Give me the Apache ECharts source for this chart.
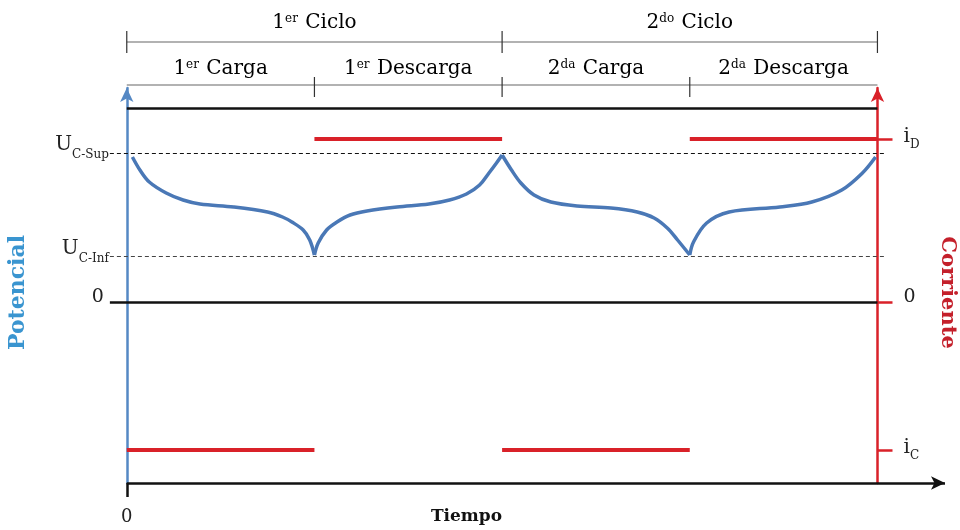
<!DOCTYPE html>
<html>
	<head>
		<meta charset="utf-8">
		<title></title>
		<script src="https://cdn.jsdelivr.net/npm/echarts@6/dist/echarts.min.js"></script>
		<style>
			html, body{margin:0;padding:0;background:#fff;}
			#main{width:960px;height:530px;}
		</style>
	</head>
	<body>
		<div id="main"></div>
		<script>
			// fases del ensayo (eje de tiempo, unidades arbitrarias)
			var limitesFase = [0, 1, 2, 3, 4];
			var fases = [['1', 'er', ' Carga'], ['1', 'er', ' Descarga'], ['2', 'da', ' Carga'], ['2', 'da', ' Descarga']];
			var ciclos = [['1', 'er', ' Ciclo'], ['2', 'do', ' Ciclo']];

			// potencial
			var carga1 = [[0.03, 1.45], [0.07, 1.32], [0.12, 1.20], [0.21, 1.09], [0.30, 1.02], [0.39, 0.98], [0.57, 0.95], [0.75, 0.90], [0.83, 0.85], [0.88, 0.80], [0.94, 0.72], [0.975, 0.62], [1.0, 0.47]];
			var descarga1 = [[1.0, 0.47], [1.02, 0.59], [1.065, 0.72], [1.12, 0.80], [1.19, 0.87], [1.28, 0.91], [1.44, 0.95], [1.61, 0.98], [1.72, 1.02], [1.81, 1.08], [1.88, 1.17], [1.93, 1.29], [1.97, 1.39], [2.0, 1.47]];
			var carga2 = [[2.0, 1.47], [2.05, 1.32], [2.10, 1.19], [2.17, 1.07], [2.26, 1.00], [2.40, 0.96], [2.58, 0.94], [2.72, 0.90], [2.81, 0.84], [2.88, 0.74], [2.935, 0.62], [3.0, 0.47]];
			var descarga2 = [[3.0, 0.47], [3.02, 0.60], [3.09, 0.79], [3.21, 0.90], [3.48, 0.95], [3.65, 1.00], [3.81, 1.12], [3.92, 1.29], [3.99, 1.45]];

			var uSup = 1.49, uInf = 0.46, nivelSup = 1.94;
			// corriente
			var iD = 1.63, iC = -1.48;
			var tramosCarga = [[0, 1], [2, 3]];
			var tramosDescarga = [[1, 2], [3, 4]];
			var ejeMin = -1.81, ejeMax = 2.14;

			var fuente = 'DejaVu Serif';
			var azul = '#5588c4', rojo = '#d92129';

			function tramos(lista, nivel){
				var d = [];
				for (var i = 0; i < lista.length; i++) {
					if (i > 0) d.push([lista[i][0] - 0.5, '-']);
					d.push([lista[i][0], nivel]);
					d.push([lista[i][1], nivel]);
				}
				return d;
			}

			function curva(nombre, datos){
				return {
					name: nombre,
					type: 'line',
					data: datos,
					smooth: 0.35,
					showSymbol: false,
					silent: true,
					lineStyle: {color: '#4a78b6', width: 3.5},
					z: 5
				};
			}

			var richSub = {
				n: {fontFamily: fuente, fontSize: 20, color: '#222', verticalAlign: 'bottom', padding: [0, 0, 6, 0]},
				s: {fontFamily: fuente, fontSize: 12, color: '#222', verticalAlign: 'bottom'},
				c: {fontFamily: fuente, fontSize: 19, color: '#222', padding: [0, 0, 10, 0]}
			};

			var myChart = echarts.init(document.getElementById('main'));

			var serieCarga1 = curva('Potencial', carga1);
			serieCarga1.markLine = {
				silent: true,
				animation: false,
				symbol: ['none', 'none'],
				label: {show: false},
				data: [
					[{coord: [0, nivelSup]}, {coord: [4, nivelSup]}],
					[{coord: [-0.09, 0], label: {show: true, position: 'start', distance: 6, formatter: '{c|0}', rich: richSub}},
						{coord: [4, 0]}],
					[{coord: [-0.09, uSup], lineStyle: {type: [4, 3], width: 1}, label: {show: true, position: 'start', distance: 1, formatter: '{n|U}{s|C-Sup}', rich: richSub, padding: [0, 0, 10, 0]}},
						{coord: [4.05, uSup]}],
					[{coord: [-0.09, uInf], lineStyle: {type: [4, 3], width: 1, color: '#444'}, label: {show: true, position: 'start', distance: 1, formatter: '{n|U}{s|C-Inf}', rich: richSub, padding: [0, 0, 8, 0]}},
						{coord: [4.05, uInf]}],
					[{coord: [0, ejeMin]}, {coord: [4.36, ejeMin], symbol: 'arrow', symbolSize: [10, 14]}]
				],
				lineStyle: {color: '#111', width: 2.5, type: 'solid'}
			};

			var option = {
				animation: false,
				grid: {left: 108, right: 15, top: 88, bottom: 47, containLabel: false, outerBoundsMode: 'none'},
				xAxis: {
					type: 'value',
					min: -0.1,
					max: 4.36,
					axisLine: {show: false, onZero: false},
					splitLine: {show: false},
					axisTick: {show: true, customValues: [0], length: 14, lineStyle: {color: '#111', width: 2.5}},
					axisLabel: {show: true, customValues: [0], formatter: '0', margin: 25, fontFamily: fuente, fontSize: 18, color: '#222'},
					name: 'Tiempo',
					nameLocation: 'middle',
					nameGap: 25,
					nameMoveOverlap: false,
					nameTextStyle: {fontFamily: fuente, fontWeight: 'bold', fontSize: 17, color: '#111', padding: [0, 120, 0, 0]}
				},
				yAxis: [{
					type: 'value',
					min: ejeMin,
					max: ejeMax,
					axisLine: {show: true, onZero: true, symbol: ['none', 'arrow'], symbolSize: [10, 14], lineStyle: {color: azul, width: 2.5}},
					axisTick: {show: false},
					axisLabel: {show: false},
					splitLine: {show: false},
					name: 'Potencial',
					nameLocation: 'middle',
					nameRotate: 90,
					nameGap: 79,
					nameMoveOverlap: false,
					nameTextStyle: {fontFamily: fuente, fontWeight: 'bold', fontSize: 22, color: '#3a95d0', padding: [0, 14, 0, 0]}
				}, {
					type: 'value',
					position: 'right',
					offset: -67.5,
					min: ejeMin,
					max: ejeMax,
					axisLine: {show: true, onZero: false, symbol: ['none', 'arrow'], symbolSize: [10, 14], lineStyle: {color: rojo, width: 2.5}},
					axisTick: {show: true, customValues: [iC, 0, iD], length: 15, lineStyle: {color: rojo, width: 2.5}},
					axisLabel: {
						show: true,
						customValues: [iC, 0, iD],
						margin: 26,
						formatter: function(v){
							if (v === 0) return '{c|0}';
							return v > 0 ? '{n|i}{s|D}' : '{n|i}{s|C}';
						},
						rich: {
							c: {fontFamily: fuente, fontSize: 19, color: '#222', padding: [0, 0, 10, 0]},
							n: {fontFamily: fuente, fontSize: 20, color: '#222', verticalAlign: 'bottom', padding: [0, 0, 4, 0]},
							s: {fontFamily: fuente, fontSize: 12, color: '#222', verticalAlign: 'bottom'}
						}
					},
					splitLine: {show: false},
					name: 'Corriente',
					nameLocation: 'middle',
					nameRotate: -90,
					nameGap: 59,
					nameMoveOverlap: false,
					nameTextStyle: {fontFamily: fuente, fontWeight: 'bold', fontSize: 21, color: '#c4202b', padding: [0, 0, 0, 14]}
				}],
				series: [
					serieCarga1,
					curva('Potencial', descarga1),
					curva('Potencial', carga2),
					curva('Potencial', descarga2),
					{
						name: 'iC',
						type: 'line',
						yAxisIndex: 1,
						data: tramos(tramosCarga, iC),
						showSymbol: false,
						silent: true,
						lineStyle: {color: rojo, width: 4}
					},
					{
						name: 'iD',
						type: 'line',
						yAxisIndex: 1,
						data: tramos(tramosDescarga, iD),
						showSymbol: false,
						silent: true,
						lineStyle: {color: rojo, width: 4}
					}
				]
			};

			myChart.setOption(option);

			// llaves de fases y ciclos arriba del grafico
			function px(v){
				return myChart.convertToPixel({xAxisIndex: 0}, v);
			}
			var richSup = {
				n: {fontFamily: fuente, fontSize: 20, color: '#222', verticalAlign: 'bottom'},
				s: {fontFamily: fuente, fontSize: 12, color: '#222', verticalAlign: 'bottom', padding: [0, 1, 8, 0]}
			};
			var g = [];
			var filas = [{y: 42, t1: 31, t2: 53, ticks: [0, 2, 4], yTxt: 23, textos: ciclos, paso: 2},
				{y: 85, t1: 77, t2: 97, ticks: [1, 2, 3], yTxt: 69, textos: fases, paso: 1}];
			filas.forEach(function(f){
				g.push({type: 'line', silent: true, shape: {x1: px(limitesFase[0]), y1: f.y, x2: px(limitesFase[4]), y2: f.y}, style: {stroke: '#666', lineWidth: 1.2}});
				f.ticks.forEach(function(t){
					g.push({type: 'line', silent: true, shape: {x1: px(limitesFase[t]), y1: f.t1, x2: px(limitesFase[t]), y2: f.t2}, style: {stroke: '#333', lineWidth: 1.2}});
				});
				f.textos.forEach(function(tx, i){
					var a = limitesFase[i * f.paso], b = limitesFase[(i + 1) * f.paso];
					g.push({
						type: 'text', silent: true,
						x: (px(a) + px(b)) / 2, y: f.yTxt,
						style: {text: '{n|' + tx[0] + '}{s|' + tx[1] + '}{n|' + tx[2] + '}', rich: richSup, align: 'center', verticalAlign: 'middle'}
					});
				});
			});
			myChart.setOption({graphic: g});
		</script>
	</body>
</html>
